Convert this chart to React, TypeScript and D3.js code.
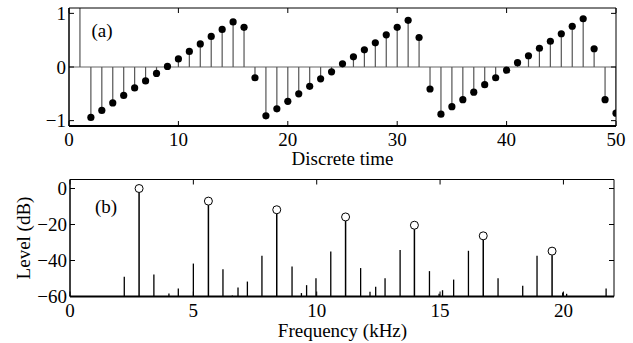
import React from 'react';
import * as d3 from 'd3';

// panel (a): sampled sawtooth, n = 1..50
const timeSteps = d3.range(1, 51);
const sampleValues = [
  1.2, -0.94, -0.81, -0.67, -0.53, -0.39, -0.26, -0.12, 0.01, 0.15,
  0.29, 0.43, 0.57, 0.7, 0.84, 0.74, -0.2, -0.91, -0.78, -0.64,
  -0.5, -0.36, -0.22, -0.09, 0.06, 0.19, 0.32, 0.45, 0.6, 0.74,
  0.87, 0.55, -0.41, -0.88, -0.74, -0.61, -0.47, -0.33, -0.2, -0.06,
  0.08, 0.21, 0.35, 0.48, 0.62, 0.76, 0.9, 0.34, -0.61, -0.86
];
const timeTicks = [0, 10, 20, 30, 40, 50];
const ampTicks = [-1, 0, 1];

// panel (b): spectrum, harmonics (circled) and aliased components
const harmonicFreqs = [2.8, 5.61, 8.38, 11.17, 13.96, 16.75, 19.54];
const harmonicLevels = [0, -7.0, -11.8, -15.8, -20.4, -26.3, -34.8];
const aliasFreqs = [
  2.2, 3.4, 4.01, 4.39, 5.0, 6.2, 6.58, 6.81, 7.19, 7.78,
  9.0, 9.38, 9.59, 9.97, 10.57, 11.78, 12.16, 12.39, 12.77, 13.38,
  14.57, 14.96, 15.1, 15.55, 16.15, 17.35, 18.35, 18.93, 19.97, 20.13,
  21.73
];
const aliasLevels = [
  -49, -47.8, -58.3, -55.5, -41.7, -44.8, -59.5, -55, -51.7, -37.4,
  -43.3, -58.1, -53.7, -49.8, -35, -44.2, -57.4, -54.6, -49.8, -34.2,
  -45.9, -58.5, -56.5, -50.6, -34.6, -49.8, -54, -37.4, -57.8, -58.5,
  -55.5
];
const freqTicks = [0, 5, 10, 15, 20];
const levelTicks = [0, -20, -40, -60];

const font = '"Liberation Serif", "Times New Roman", serif';
const fs = 19;
const fmt = (v: number) => (v < 0 ? '\u2212' + Math.abs(v) : String(v));

function Frame({ x, y, xTicks, yTicks, tick = 5 }: any) {
  const [x0, x1] = x.range();
  const [y0, y1] = y.range();
  return (
    <g>
      {xTicks.map((t: number) => (
        <g key={'x' + t}>
          <line x1={x(t)} x2={x(t)} y1={y0} y2={y0 - tick} stroke="#000" />
          <line x1={x(t)} x2={x(t)} y1={y1} y2={y1 + tick} stroke="#000" />
        </g>
      ))}
      {yTicks.map((t: number) => (
        <g key={'y' + t}>
          <line x1={x0} x2={x0 + tick} y1={y(t)} y2={y(t)} stroke="#000" />
          <line x1={x1} x2={x1 - tick} y1={y(t)} y2={y(t)} stroke="#000" />
        </g>
      ))}
      <line x1={x0} x2={x1} y1={y1} y2={y1} stroke="#000" />
      <line x1={x1} x2={x1} y1={y0} y2={y1} stroke="#000" />
      <line x1={x0} x2={x1} y1={y0} y2={y0} stroke="#000" strokeWidth={2} />
      <line x1={x0} x2={x0} y1={y0} y2={y1} stroke="#000" strokeWidth={1.5} />
      {xTicks.map((t: number) => (
        <text key={'xl' + t} x={x(t)} y={y0 + 20} textAnchor="middle" fontSize={fs}>
          {fmt(t)}
        </text>
      ))}
      {yTicks.map((t: number) => (
        <text key={'yl' + t} x={x0 - 3} y={y(t) + 6.5} textAnchor="end" fontSize={fs}>
          {fmt(t)}
        </text>
      ))}
    </g>
  );
}

export default function App() {
  const xa = d3.scaleLinear().domain([0, 50]).range([69, 616]);
  const ya = d3.scaleLinear().domain([-1.1, 1.1]).range([126, 8]);

  const xb = d3.scaleLinear().domain([0, 22.05]).range([70, 614]);
  const yb = d3.scaleLinear().domain([-60, 5]).range([296.5, 179.5]);

  return (
    <svg
      width={633}
      height={343}
      style={{ position: 'absolute', left: 0, top: 0, background: '#fff' }}
      fontFamily={font}
    >
      <defs>
        <clipPath id="clipA">
          <rect x={69} y={8} width={547} height={118} />
        </clipPath>
      </defs>

      {/* panel (a) */}
      <g clipPath="url(#clipA)">
        <line x1={69} x2={616} y1={ya(0)} y2={ya(0)} stroke="#666" strokeWidth={1.2} />
        {sampleValues.map((v, i) => (
          <g key={i}>
            <line
              x1={xa(timeSteps[i])}
              x2={xa(timeSteps[i])}
              y1={ya(0)}
              y2={ya(v)}
              stroke="#555"
              strokeWidth={1.2}
            />
            <circle cx={xa(timeSteps[i])} cy={ya(v)} r={3.6} fill="#000" />
          </g>
        ))}
      </g>
      <Frame x={xa} y={ya} xTicks={timeTicks} yTicks={ampTicks} />
      <text x={91.5} y={37} fontSize={fs}>(a)</text>
      <text x={342.5} y={165} textAnchor="middle" fontSize={fs}>Discrete time</text>

      {/* panel (b) */}
      {aliasFreqs.map((f, i) => (
        <line
          key={'a' + i}
          x1={xb(f)}
          x2={xb(f)}
          y1={yb(-60)}
          y2={yb(aliasLevels[i])}
          stroke="#000"
          strokeWidth={1.3}
        />
      ))}
      {harmonicFreqs.map((f, i) => (
        <g key={'h' + i}>
          <line
            x1={xb(f)}
            x2={xb(f)}
            y1={yb(-60)}
            y2={yb(harmonicLevels[i]) + 4}
            stroke="#000"
            strokeWidth={1.5}
          />
          <circle cx={xb(f)} cy={yb(harmonicLevels[i])} r={4} fill="none" stroke="#000" strokeWidth={1} />
        </g>
      ))}
      <Frame x={xb} y={yb} xTicks={freqTicks} yTicks={levelTicks} />
      <text x={95} y={213} fontSize={fs}>(b)</text>
      <text x={342.5} y={337} textAnchor="middle" fontSize={fs}>Frequency (kHz)</text>
      <text
        transform={`translate(30,238) rotate(-90)`}
        textAnchor="middle"
        fontSize={fs}
      >
        Level (dB)
      </text>
    </svg>
  );
}
